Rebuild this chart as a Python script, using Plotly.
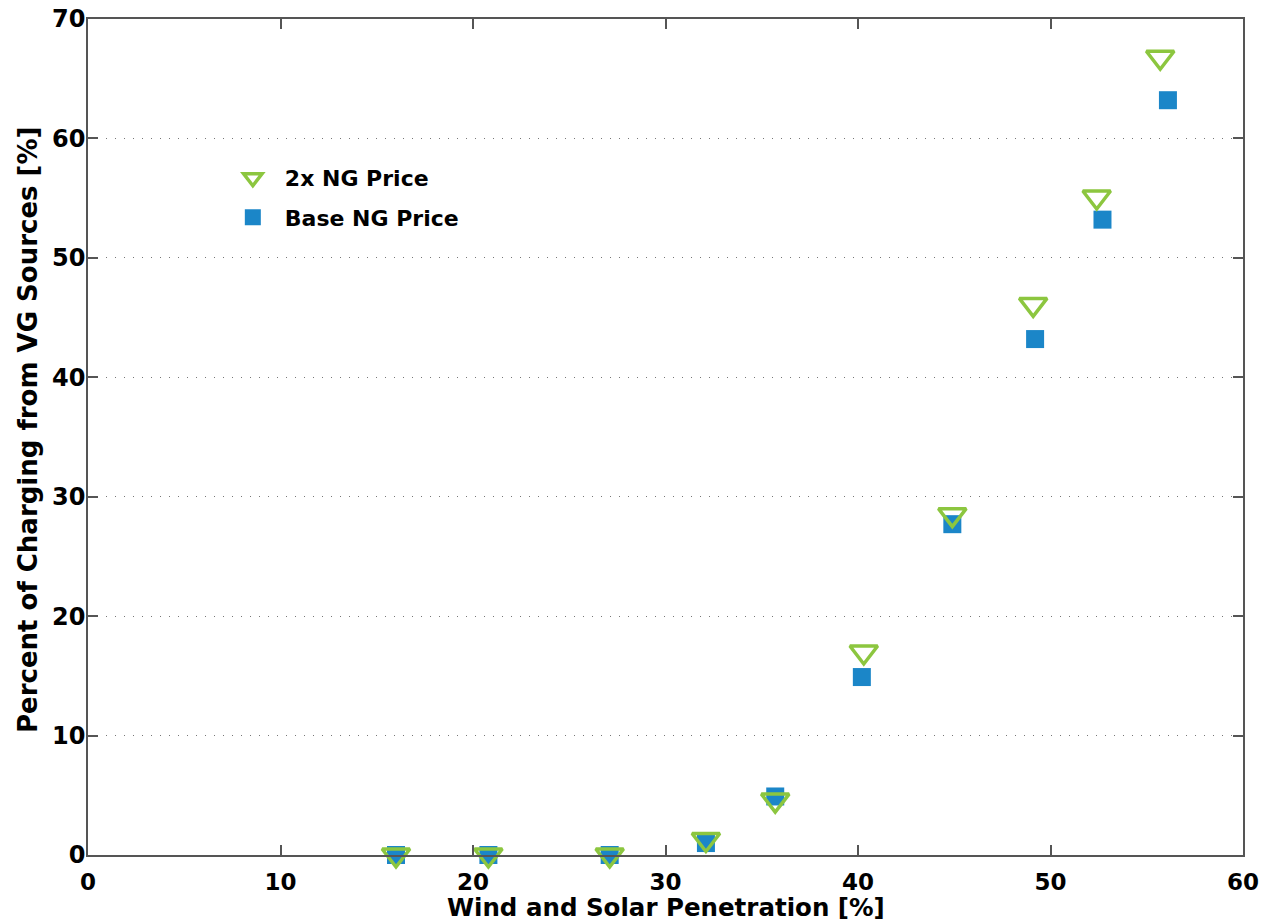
import plotly.graph_objects as go

penetration_2x = [16.0, 20.8, 27.1, 32.1, 35.7, 40.3, 44.9, 49.1, 52.4, 55.7]
charging_2x = [0.0, 0.0, 0.0, 1.3, 4.6, 17.0, 28.5, 46.1, 55.1, 66.8]

penetration_base = [16.0, 20.8, 27.1, 32.1, 35.7, 40.2, 44.9, 49.2, 52.7, 56.1]
charging_base = [0.0, 0.0, 0.0, 1.0, 4.9, 14.9, 27.7, 43.2, 53.2, 63.2]

x_ticks = [0, 10, 20, 30, 40, 50, 60]
y_ticks = [0, 10, 20, 30, 40, 50, 60, 70]

GREEN = "#8CC63F"
BLUE = "#1B86C8"
FONT = "DejaVu Sans, Liberation Sans, Arial, sans-serif"

fig = go.Figure()
fig.add_trace(go.Scatter(
    x=penetration_base, y=charging_base, mode="markers", name="Base NG Price",
    legendgroup="base", legendrank=2,
    marker=dict(symbol="square", size=18, color=BLUE, line=dict(width=0)),
    cliponaxis=False,
))
fig.add_trace(go.Scatter(
    x=penetration_2x, y=charging_2x, mode="markers", name="2x NG Price",
    legendgroup="twox", legendrank=1,
    marker=dict(symbol="triangle-down-open", size=24, color=GREEN, line=dict(width=3.5, color=GREEN)),
    cliponaxis=False,
))

axis_common = dict(
    showline=True, linecolor="#555555", linewidth=1.5, mirror="ticks",
    ticks="inside", ticklen=10, tickwidth=1.5, tickcolor="#555555",
    zeroline=False, ticklabeloverflow="allow",
)

fig.update_xaxes(
    range=[0, 60], tickvals=x_ticks, showgrid=False,
    tickfont=dict(family=FONT, size=23, color="black", weight="bold"),
    ticklabelstandoff=6,
    **axis_common,
)
fig.update_yaxes(
    range=[0, 70], tickvals=y_ticks, showgrid=True, gridcolor="#777777", gridwidth=1.2,
    griddash="1px,8px",
    tickfont=dict(family=FONT, size=24, color="black", weight="bold"),
    ticklabelstandoff=-4,
    **axis_common,
)

fig.add_annotation(
    text="<b>Wind and Solar Penetration [%]</b>",
    xref="paper", yref="paper", x=0.5, y=0, xanchor="center", yanchor="top",
    yshift=-36, showarrow=False,
    font=dict(family=FONT, size=24.5, color="black"),
)
fig.add_annotation(
    text="<b>Percent of Charging from VG Sources [%]</b>",
    xref="paper", yref="paper", x=0, y=0.5, xanchor="center", yanchor="middle",
    xshift=-60, yshift=7, textangle=-90, showarrow=False,
    font=dict(family=FONT, size=26, color="black"),
)

fig.update_layout(
    width=1268, height=922,
    margin=dict(l=88, r=25, t=19, b=67, autoexpand=False),
    paper_bgcolor="white", plot_bgcolor="white",
    showlegend=True,
    legend=dict(
        x=0.115, y=0.835, xanchor="left", yanchor="top",
        bgcolor="white", borderwidth=0, traceorder="grouped",
        font=dict(family=FONT, size=22, color="black", weight="bold"),
        itemsizing="trace", tracegroupgap=8, itemwidth=54,
    ),
)

fig.write_html(
    "out.html",
    config={"displayModeBar": False},
    post_script="document.body.style.margin='0';document.body.style.overflow='hidden';",
)
